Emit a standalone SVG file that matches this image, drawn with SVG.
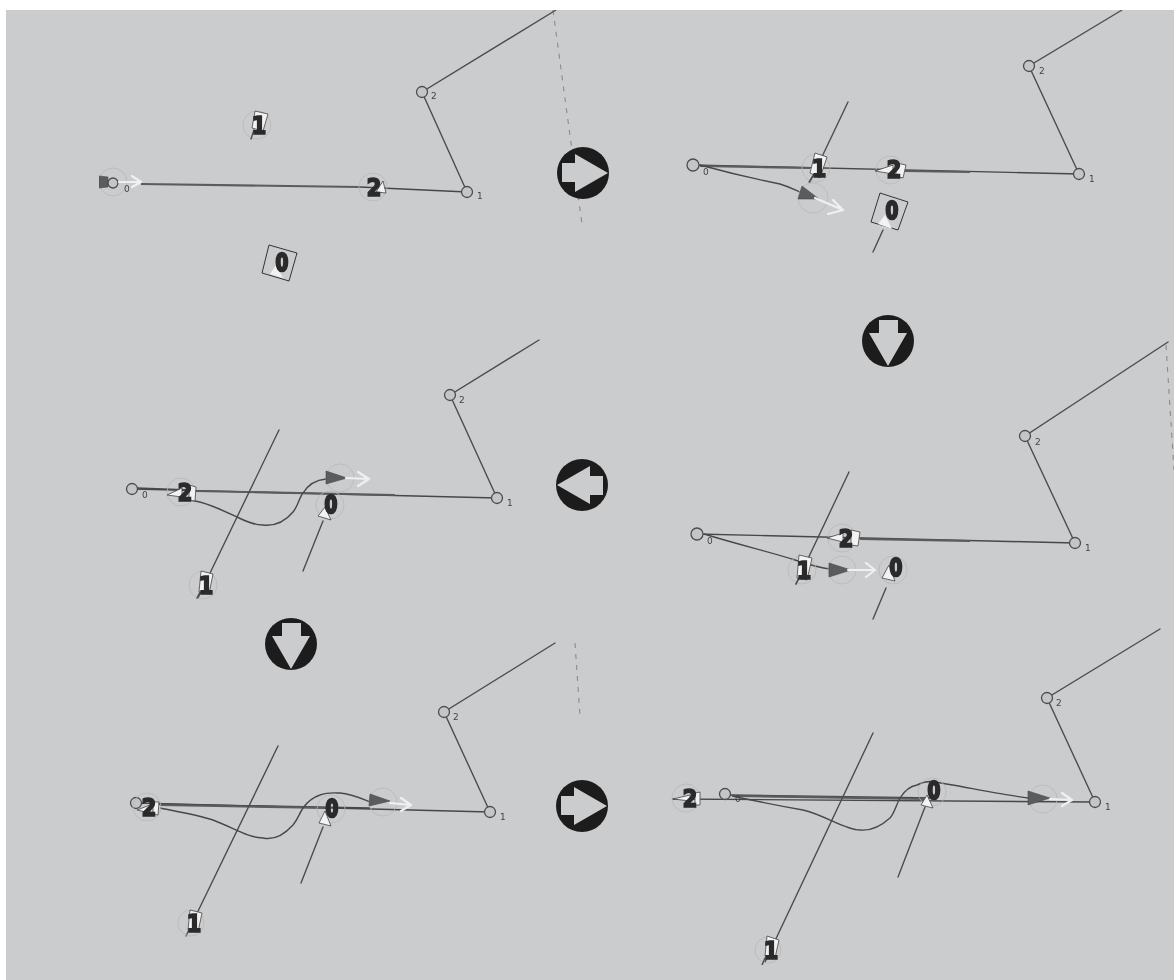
<svg xmlns="http://www.w3.org/2000/svg" width="1174" height="980" viewBox="0 0 1174 980">
<style>
.l{fill:none;stroke:#4c4d4f;stroke-width:1.4;stroke-linecap:round}
.c{fill:none;stroke:#47484a;stroke-width:1.4}
.m{fill:none;stroke:#5a5b5d;stroke-width:2.200}
.d{fill:none;stroke:#8a8b8d;stroke-width:1.100;stroke-dasharray:5 6}
.j{fill:#c4c5c7;stroke:#4c4d4f;stroke-width:1.300}
.h{fill:none;stroke:#b6b7b9;stroke-width:.8}
.t{font-family:"DejaVu Sans",sans-serif;font-size:9px;fill:#444}
.n{font-family:"DejaVu Sans",sans-serif;font-weight:bold;font-size:25px;fill:#2a2a2c;stroke:#2a2a2c;stroke-width:1.600;text-anchor:middle}
.z{font-family:"DejaVu Sans",sans-serif;font-weight:bold;font-size:25px;fill:#2a2a2c;stroke:#2a2a2c;stroke-width:2.400;text-anchor:middle}
.w{fill:#f2f2f2;stroke:#444;stroke-width:.8}
.f{fill:#f2f2f2}
.o{fill:none;stroke:#333;stroke-width:1}
.a{fill:#5a5b5d;stroke:#48494b;stroke-width:.6}
.ws{fill:none;stroke:#f0f0f0;stroke-width:2.200;stroke-linecap:round;stroke-linejoin:round}
.b{fill:#1f1c1d}
.g{fill:#cbccce}
</style>
<defs>
<g id="right"><circle r="26" class="b"/><path class="g" d="M-21-10H-8V-19L25 0-8 19V9H-21Z"/></g>
<filter id="soft" x="0" y="0" width="100%" height="100%"><feGaussianBlur stdDeviation="0.45"/></filter>
</defs>
<rect width="1174" height="980" fill="#fff"/>
<rect x="6" y="10" width="1168" height="970" fill="#cbccce"/>
<g filter="url(#soft)">
<g id="connectors">
<path class="d" d="M553 10 L582 224"/>
<path class="d" d="M1166 345 L1174 470"/>
<path class="d" d="M575 643 L580 716"/>
<!-- panel 1 -->
<path class="l" d="M556 10 L422 92 L467 192"/>
<path class="m" d="M141 184 L360 187"/><path class="c" d="M360 187 L467 192"/>
<!-- panel 2 -->
<path class="l" d="M1122 10 L1029 66 L1079 174"/>
<path class="c" d="M693 165 L1079 174"/>
<path class="m" d="M700 166 L810 168 M905 171 L970 172"/>
<path class="l" d="M848 102 L810 182"/>
<path class="l" d="M873 252 L883 230"/>
<path class="c" d="M700 165 C740 176 770 182 780 184 C790 187 795 190 802 193"/>
<!-- panel 3 -->
<path class="l" d="M1168 342 L1025 436 L1075 543"/>
<path class="c" d="M697 534 L1075 543"/>
<path class="m" d="M860 539 L970 541"/>
<path class="l" d="M849 472 L796 584"/>
<path class="l" d="M873 619 L886 588"/>
<path class="c" d="M704 534 C740 545 770 552 795 560 C810 565 820 568 830 569"/>
<!-- panel 4 -->
<path class="l" d="M539 340 L450 395 L497 498"/>
<path class="c" d="M132 489 L497 498"/>
<path class="c" d="M137 488 L190 490"/>
<path class="m" d="M196 491 L395 495"/>
<path class="l" d="M279 430 L198 598"/>
<path class="l" d="M303 571 L323 521"/>
<path class="c" d="M190 500 C205 502 222 510 237 517 C247 522 255 525 263 525 C272 526 283 524 293 512 C298 506 299 498 303 493 C308 485 315 480 326 479"/>
<!-- panel 5 -->
<path class="l" d="M555 643 L444 712 L490 812"/>
<path class="c" d="M136 803 L490 812"/>
<path class="c" d="M155 804 L370 808"/>
<path class="m" d="M160 805 L330 808"/>
<path class="l" d="M278 746 L186 936"/>
<path class="l" d="M301 883 L323 827"/>
<path class="c" d="M160 808 C180 812 198 815 213 820 C232 827 248 838 263 838 C272 840 283 836 293 825 C298 819 299 814 303 808 C308 801 314 797 320 795 C328 792 335 793 340 793 C352 794 360 798 370 802"/>
<!-- panel 6 -->
<path class="l" d="M1160 629 L1047 698 L1095 802"/>
<path class="c" d="M672 799 L1095 802"/>
<path class="c" d="M730 795 L935 798"/>
<path class="m" d="M735 796 L925 799"/>
<path class="l" d="M873 733 L765 962"/>
<path class="l" d="M898 877 L925 807"/>
<path class="c" d="M732 796 C755 801 780 806 803 810 C825 815 845 830 860 830 C870 831 880 827 890 818 C895 812 896 805 900 798 C905 790 911 786 917 785 C925 781 930 781 935 782 C960 786 1005 795 1028 798"/>
</g>

<g id="arrow-a"><use href="#right" x="583" y="173"/></g>
<g id="arrow-b"><use href="#right" transform="translate(888 341) rotate(90)"/></g>
<g id="arrow-c"><use href="#right" transform="translate(582 485) rotate(180)"/></g>
<g id="arrow-d"><use href="#right" transform="translate(291 644) rotate(90)"/></g>
<g id="arrow-e"><use href="#right" x="582" y="806"/></g>

<g id="panel1">
<circle class="h" cx="113" cy="182" r="14"/>
<path class="a" d="M99 176 L108 177 L108 187 L99 188Z"/>
<circle class="j" cx="113" cy="183" r="5"/>
<path class="ws" d="M119 182 H141 M132 176 L141 182 L132 187"/>
<text class="t" x="124" y="192">0</text>
<circle class="j" cx="422" cy="92" r="5.500"/><text class="t" x="431" y="99">2</text>
<circle class="j" cx="467" cy="192" r="5.500"/><text class="t" x="477" y="199">1</text>
<g id="p1n1"><circle class="h" cx="257" cy="125" r="14"/><path class="w" d="M255 111 L268 114 L263 131 L252 128Z"/><path class="l" d="M254 130 L251 139"/><text class="n" transform="translate(259 134) scale(.86 1)">1</text></g>
<g id="p1n2"><circle class="h" cx="373" cy="187" r="14"/><path class="w" d="M383 181 L386 193 L376 192Z"/><text class="n" transform="translate(374 196) scale(.86 1)">2</text></g>
<g id="p1n0"><path class="o" d="M269 245 L297 253 L289 281 L262 273Z"/><path class="f" d="M276 265 L283 278 L270 274Z"/><text class="z" transform="translate(282 271) scale(.74 1)">0</text></g>
</g>

<g id="panel2">
<circle class="j" cx="693" cy="165" r="6"/><text class="t" x="703" y="175">0</text>
<circle class="j" cx="1029" cy="66" r="5.500"/><text class="t" x="1039" y="74">2</text>
<circle class="j" cx="1079" cy="174" r="5.500"/><text class="t" x="1089" y="182">1</text>
<circle class="h" cx="813" cy="198" r="15"/>
<path class="a" d="M802 186 L819 199 L798 199Z"/>
<path class="ws" d="M815 198 L843 210 M828 214 L843 210 L833 200"/>
<g id="p2n1"><circle class="h" cx="816" cy="168" r="14"/><path class="w" d="M815 153 L827 157 L820 178 L810 173Z"/><path class="l" d="M812 177 L809 182"/><text class="n" transform="translate(819 177) scale(.86 1)">1</text></g>
<g id="p2n2"><circle class="h" cx="890" cy="170" r="14"/><path class="w" d="M896 163 L906 165 L903 178 L896 176Z"/><path class="w" d="M875 171 L893 165 L893 174Z"/><text class="n" transform="translate(894 178) scale(.86 1)">2</text></g>
<g id="p2n0"><path class="o" d="M880 193 L908 202 L898 230 L871 222Z"/><path class="f" d="M885 215 L892 229 L878 224Z"/><text class="z" transform="translate(892 219) scale(.74 1)">0</text></g>
</g>

<g id="panel3">
<circle class="j" cx="697" cy="534" r="6"/><text class="t" x="707" y="544">0</text>
<circle class="j" cx="1025" cy="436" r="5.500"/><text class="t" x="1035" y="445">2</text>
<circle class="j" cx="1075" cy="543" r="5.500"/><text class="t" x="1085" y="551">1</text>
<circle class="h" cx="842" cy="570" r="14"/>
<path class="a" d="M829 563 L851 570 L829 577Z"/>
<path class="ws" d="M848 570 L875 570 M866 563 L875 570 L866 577"/>
<g id="p3n1"><circle class="h" cx="802" cy="570" r="14"/><path class="w" d="M799 555 L812 558 L807 580 L797 578Z"/><path class="l" d="M799 578 L796 584"/><text class="n" transform="translate(804 579) scale(.86 1)">1</text></g>
<g id="p3n2"><circle class="h" cx="842" cy="538" r="14"/><path class="w" d="M851 530 L860 532 L858 546 L851 545Z"/><path class="w" d="M827 538 L843 533 L843 542Z"/><text class="n" transform="translate(846 547) scale(.86 1)">2</text></g>
<g id="p3n0"><circle class="h" cx="893" cy="570" r="14"/><path class="w" d="M889 565 L895 581 L882 578Z"/><text class="z" transform="translate(896 576) scale(.74 1)">0</text></g>
</g>

<g id="panel4">
<circle class="j" cx="132" cy="489" r="5.500"/><text class="t" x="142" y="498">0</text>
<circle class="j" cx="450" cy="395" r="5.500"/><text class="t" x="459" y="403">2</text>
<circle class="j" cx="497" cy="498" r="5.500"/><text class="t" x="507" y="506">1</text>
<circle class="h" cx="340" cy="478" r="14"/>
<path class="a" d="M326 471 L347 478 L326 484Z"/>
<path class="ws" d="M346 478 L369 479 M358 472 L369 479 L358 486"/>
<g id="p4n2"><circle class="h" cx="181" cy="492" r="14"/><path class="w" d="M189 485 L196 487 L195 501 L189 500Z"/><path class="w" d="M167 495 L182 488 L182 497Z"/><text class="n" transform="translate(185 501) scale(.86 1)">2</text></g>
<g id="p4n1"><circle class="h" cx="203" cy="585" r="14"/><path class="w" d="M201 571 L213 574 L209 594 L199 592Z"/><path class="l" d="M200 592 L197 598"/><text class="n" transform="translate(206 594) scale(.86 1)">1</text></g>
<g id="p4n0"><circle class="h" cx="330" cy="505" r="14"/><path class="w" d="M325 507 L331 520 L318 516Z"/><text class="z" transform="translate(331 513) scale(.74 1)">0</text></g>
</g>

<g id="panel5">
<circle class="j" cx="136" cy="803" r="5.500"/>
<circle class="j" cx="444" cy="712" r="5.500"/><text class="t" x="453" y="720">2</text>
<circle class="j" cx="490" cy="812" r="5.500"/><text class="t" x="500" y="820">1</text>
<circle class="h" cx="383" cy="802" r="14"/>
<path class="a" d="M370 794 L390 801 L369 806Z"/>
<path class="ws" d="M390 803 L411 805 M401 798 L411 805 L401 811"/>
<g id="p5n2"><circle class="h" cx="147" cy="807" r="14"/><path class="w" d="M153 802 L159 802 L158 815 L153 814Z"/><path class="w" d="M137 810 L150 805 L150 813Z"/><text class="n" transform="translate(149 816) scale(.86 1)">2</text></g>
<g id="p5n1"><circle class="h" cx="191" cy="923" r="13"/><path class="w" d="M190 910 L202 913 L198 932 L188 930Z"/><text class="n" transform="translate(194 932) scale(.86 1)">1</text></g>
<g id="p5n0"><circle class="h" cx="331" cy="809" r="14"/><path class="w" d="M325 811 L331 826 L319 823Z"/><text class="z" transform="translate(332 817) scale(.74 1)">0</text></g>
</g>

<g id="panel6">
<circle class="j" cx="725" cy="794" r="5.500"/><text class="t" x="735" y="802">0</text>
<circle class="j" cx="1047" cy="698" r="5.500"/><text class="t" x="1056" y="706">2</text>
<circle class="j" cx="1095" cy="802" r="5.500"/><text class="t" x="1105" y="810">1</text>
<circle class="h" cx="1043" cy="799" r="14"/>
<path class="a" d="M1028 791 L1050 798 L1028 805Z"/>
<path class="ws" d="M1050 799 L1072 800 M1062 793 L1072 800 L1062 806"/>
<g id="p6n2"><circle class="h" cx="686" cy="798" r="14"/><path class="w" d="M695 793 L700 792 L700 805 L695 805Z"/><path class="w" d="M673 799 L690 795 L690 801Z"/><text class="n" transform="translate(690 807) scale(.86 1)">2</text></g>
<g id="p6n1"><circle class="h" cx="768" cy="950" r="13"/><path class="w" d="M767 936 L779 940 L775 958 L765 956Z"/><path class="l" d="M765 958 L762 965"/><text class="n" transform="translate(771 959) scale(.86 1)">1</text></g>
<g id="p6n0"><circle class="h" cx="932" cy="792" r="14"/><path class="w" d="M927 795 L933 808 L921 805Z"/><text class="z" transform="translate(934 799) scale(.74 1)">0</text></g>
</g>
</g>
</svg>
